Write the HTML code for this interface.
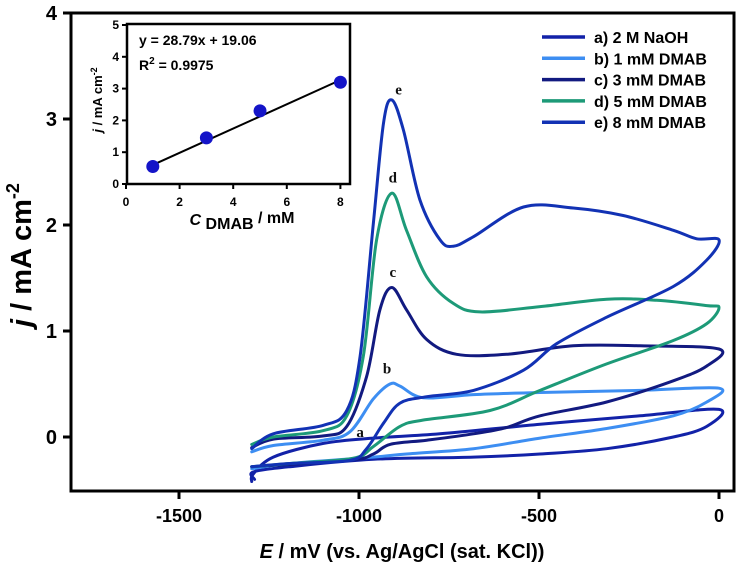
<!DOCTYPE html>
<html><head><meta charset="utf-8"><style>
html,body{margin:0;padding:0;background:#fff;}
svg{display:block;font-family:"Liberation Sans",Arial,sans-serif;font-weight:bold;}
</style></head><body>
<svg id="chart" width="743" height="573" viewBox="0 0 743 573">
<g id="plot"></g>
</svg>
<script>
// ---- main chart data (E in mV, j in mA cm^-2) ----
const seriesNames = ["a) 2 M NaOH","b) 1 mM DMAB","c) 3 mM DMAB","d) 5 mM DMAB","e) 8 mM DMAB"];
const seriesLetters = ["a","b","c","d","e"];
const seriesColors = ["#1222a8","#3d8ef2","#121a80","#1d9a78","#1232b4"];
const aE = [-1298,-1294,-1238,-1099,-960,-775,-497,-219,0,-34,-127,-312,-497,-682,-960,-1192,-1294,-1290];
const aJ = [-0.42,-0.35,-0.19,-0.06,-0.01,0.03,0.12,0.20,0.26,0.10,0.0,-0.11,-0.16,-0.19,-0.21,-0.28,-0.33,-0.40];
const bE = [-1298,-1238,-1099,-1025,-960,-914,-886,-821,-682,-497,-219,0,-34,-127,-312,-497,-682,-868,-960,-1192,-1298];
const bJ = [-0.14,-0.08,-0.03,0.05,0.36,0.50,0.48,0.37,0.40,0.42,0.44,0.46,0.33,0.20,0.08,-0.01,-0.11,-0.16,-0.19,-0.25,-0.30];
const cE = [-1298,-1238,-1099,-1034,-979,-942,-909,-868,-812,-729,-590,-405,-219,0,-34,-127,-312,-497,-590,-682,-812,-914,-960,-1025,-1298];
const cJ = [-0.10,-0.02,0.01,0.10,0.57,1.20,1.41,1.20,0.92,0.78,0.78,0.86,0.86,0.83,0.67,0.53,0.33,0.20,0.09,0.03,-0.03,-0.07,-0.16,-0.22,-0.28];
const dE = [-1298,-1238,-1099,-1034,-988,-951,-909,-868,-812,-738,-664,-497,-312,-173,-34,0,-34,-127,-312,-497,-636,-821,-886,-960,-1016,-1192,-1298];
const dJ = [-0.07,0.00,0.06,0.20,0.76,1.86,2.30,1.95,1.51,1.26,1.18,1.23,1.30,1.29,1.24,1.22,1.07,0.91,0.69,0.44,0.25,0.16,0.10,-0.09,-0.20,-0.25,-0.28];
const eE = [-1298,-1238,-1099,-1034,-997,-960,-932,-909,-877,-831,-775,-738,-682,-543,-405,-266,-127,-62,0,-34,-127,-312,-451,-543,-682,-812,-886,-932,-979,-1025,-1192,-1298];
const eJ = [-0.11,0.03,0.11,0.25,0.76,2.02,2.96,3.18,2.90,2.24,1.86,1.80,1.89,2.17,2.16,2.09,1.95,1.87,1.86,1.67,1.42,1.13,0.88,0.63,0.44,0.38,0.32,0.13,-0.11,-0.22,-0.25,-0.28];
const letterE = [-997,-922,-906,-906,-890];
const letterJ = [0.0,0.60,1.51,2.40,3.23];
const xTicks = [-1500,-1000,-500,0];
const yTicks = [0,1,2,3,4];
// ---- inset data ----
const insetConc = [1,3,5,8];
const insetJ = [0.55,1.45,2.3,3.2];
const insetFitX = [1,8];
const insetFitJ = [0.6,3.27];
const insetXTicks = [0,2,4,6,8];
const insetYTicks = [0,1,2,3,4,5];

const NS="http://www.w3.org/2000/svg";
const g=document.getElementById('plot');
function mk(tag,attrs,parent){const e=document.createElementNS(NS,tag);for(const k in attrs)e.setAttribute(k,attrs[k]);(parent||g).appendChild(e);return e;}
const X=v=>719+v*0.36;
const Y=v=>437-v*106;
const L=71,R=734,T=13,B=491;

const allE=[aE,bE,cE,dE,eE], allJ=[aJ,bJ,cJ,dJ,eJ];
function smoothPath(xs,ys){let d='M'+xs[0]+','+ys[0];for(let i=0;i<xs.length-1;i++){const x0=xs[Math.max(i-1,0)],y0=ys[Math.max(i-1,0)],x1=xs[i],y1=ys[i],x2=xs[i+1],y2=ys[i+1],x3=xs[Math.min(i+2,xs.length-1)],y3=ys[Math.min(i+2,xs.length-1)];d+=' C'+(x1+(x2-x0)/6).toFixed(1)+','+(y1+(y2-y0)/6).toFixed(1)+' '+(x2-(x3-x1)/6).toFixed(1)+','+(y2-(y3-y1)/6).toFixed(1)+' '+x2.toFixed(1)+','+y2.toFixed(1);}return d;}
for(let s=0;s<5;s++){
  const p=mk('path',{d:smoothPath(allE[s].map(X),allJ[s].map(Y)),fill:'none',stroke:seriesColors[s],'stroke-width':3,'stroke-linejoin':'round','stroke-linecap':'round'});
  
  
  const t=mk('text',{x:X(letterE[s]),y:Y(letterJ[s]),'font-family':'Liberation Serif,serif','font-size':15,'text-anchor':'middle',fill:'#111'});
  t.textContent=seriesLetters[s];
  
  
}
const fr=mk('rect',{x:L,y:T,width:R-L,height:B-T,fill:'none',stroke:'#000','stroke-width':3});


xTicks.forEach(v=>{
  const tk=mk('line',{x1:X(v),x2:X(v),y1:B,y2:B+8,stroke:'#000','stroke-width':3});
  
  
  const t=mk('text',{x:X(v),y:B+31,'font-size':18,'text-anchor':'middle'});t.textContent=v;
  
  
});
yTicks.forEach(v=>{
  const tk=mk('line',{x1:L-8,x2:L,y1:Y(v),y2:Y(v),stroke:'#000','stroke-width':3});
  
  
  const t=mk('text',{x:L-14,y:Y(v)+7,'font-size':20,'text-anchor':'end'});t.textContent=v;
  
  
});
for(let s=0;s<5;s++){
  const y=37+s*21.3;
  const ln=mk('line',{x1:542,x2:585,y1:y,y2:y,stroke:seriesColors[s],'stroke-width':3.5});
  
  
  const t=mk('text',{x:594,y:y+6,'font-size':16});t.textContent=seriesNames[s];
  
  
}
const IX=v=>126+v*26.8, IY=v=>184-v*31.8;
const ib=mk('rect',{x:127,y:24,width:223,height:160,fill:'#fff',stroke:'#000','stroke-width':2.5});


insetXTicks.forEach(v=>{
  const tk=mk('line',{x1:IX(v),x2:IX(v),y1:184,y2:189,stroke:'#000','stroke-width':2});
  
  
  const t=mk('text',{x:IX(v),y:206,'font-size':12,'text-anchor':'middle'});t.textContent=v;
  
  
});
insetYTicks.forEach(v=>{
  const tk=mk('line',{x1:122,x2:127,y1:IY(v),y2:IY(v),stroke:'#000','stroke-width':2});
  
  
  const t=mk('text',{x:119,y:IY(v)+4,'font-size':12,'text-anchor':'end'});t.textContent=v;
  
  
});
const fit=mk('line',{x1:IX(insetFitX[0]),y1:IY(insetFitJ[0]),x2:IX(insetFitX[1]),y2:IY(insetFitJ[1]),stroke:'#000','stroke-width':2});


insetConc.forEach((c,i)=>{
  const p=mk('circle',{cx:IX(c),cy:IY(insetJ[i]),r:6.5,fill:'#1414c8'});
  
  
});
</script>
<script>
const s2=document.getElementById('chart');
s2.insertAdjacentHTML('beforeend',
'<text x="139" y="45" font-size="14">y = 28.79x + 19.06</text>'+
'<text x="139" y="70" font-size="14">R<tspan dy="-6" font-size="10">2</tspan><tspan dy="6"> = 0.9975</tspan></text>'+
'<text transform="translate(102,100) rotate(-90)" font-size="13" text-anchor="middle"><tspan font-style="italic">j</tspan> / mA cm<tspan dy="-5" font-size="9">-2</tspan></text>'+
'<text x="242" y="225" font-size="16" text-anchor="middle"><tspan font-style="italic">C</tspan><tspan dy="4"> DMAB</tspan><tspan dy="-6"> / mM</tspan></text>'+
'<text transform="translate(31,255) rotate(-90)" font-size="29" text-anchor="middle"><tspan font-style="italic">j</tspan> / mA cm<tspan dy="-12" font-size="18">-2</tspan></text>'+
'<text x="402" y="558" font-size="20" text-anchor="middle"><tspan font-style="italic">E</tspan> / mV (vs. Ag/AgCl (sat. KCl))</text>');
</script>
</body></html>
